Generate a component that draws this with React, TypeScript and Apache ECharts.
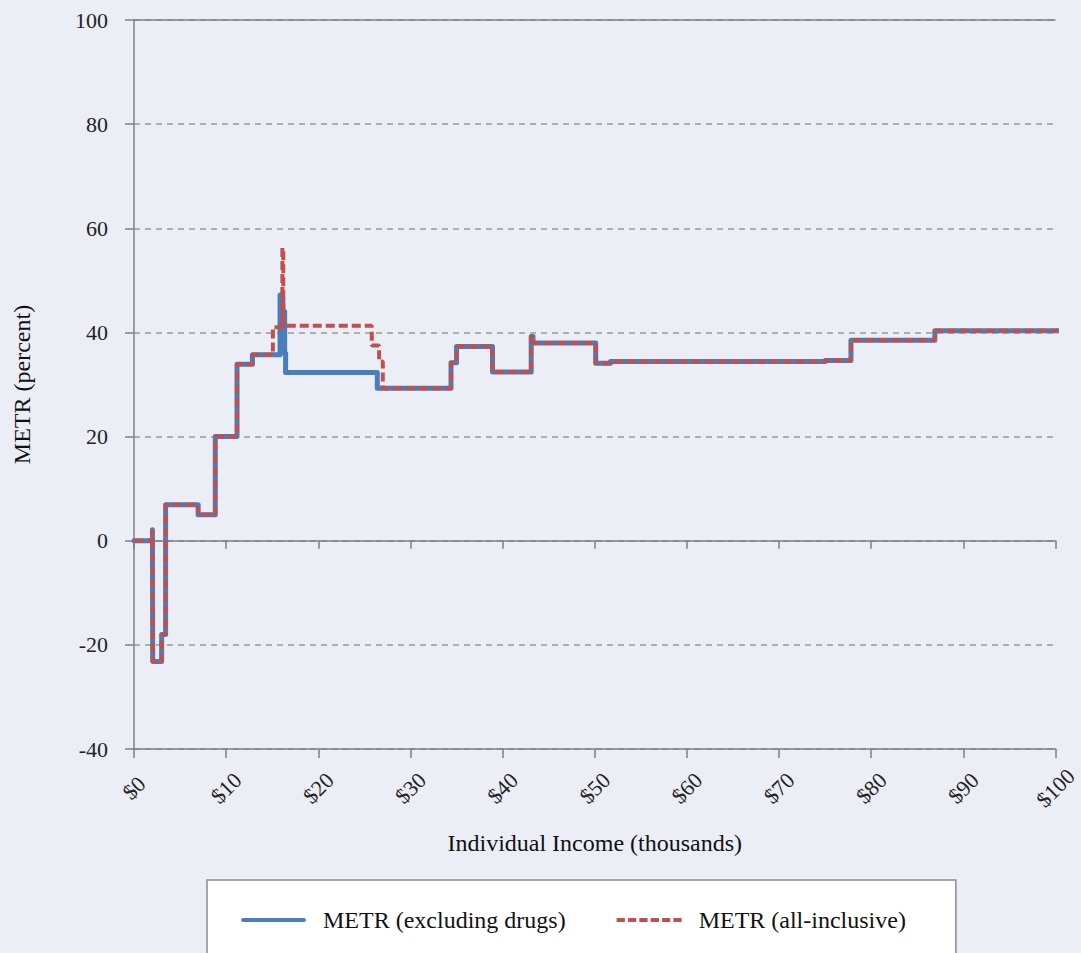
import React, { useEffect, useRef } from "react";
import * as echarts from "echarts";

// Step breakpoints: each value holds from its income to the next income (thousands of $)
const incomeExcl = [0, 2.0, 2.03, 3.0, 3.43, 6.96, 8.82, 11.18, 12.85, 15.85, 15.95, 16.05, 16.15, 16.25, 16.35, 16.45, 26.4, 34.4, 35.0, 38.9, 43.1, 43.3, 50.1, 51.7, 75.0, 77.8, 86.9, 101.3];
const metrExcl = [0, 2.1, -23.2, -18.0, 6.9, 5.0, 20.0, 33.9, 35.7, 47.2, 36.5, 46.5, 38.0, 44.0, 36.0, 32.3, 29.3, 34.2, 37.3, 32.4, 39.2, 37.95, 34.1, 34.4, 34.6, 38.5, 40.3, 40.3];

const incomeAll = [0, 2.0, 2.03, 3.0, 3.43, 6.96, 8.82, 11.18, 12.85, 15.07, 16.1, 16.2, 25.8, 26.6, 27.0, 34.4, 35.0, 38.9, 43.1, 43.3, 50.1, 51.7, 75.0, 77.8, 86.9, 101.0];
const metrAll = [0, 2.1, -23.2, -18.0, 6.9, 5.0, 20.0, 33.9, 35.7, 41.0, 56.2, 41.3, 37.5, 34.4, 29.3, 34.2, 37.3, 32.4, 39.2, 37.95, 34.1, 34.4, 34.6, 38.5, 40.3, 40.3];

const seriesNames = ["METR (excluding drugs)", "METR (all-inclusive)"];
const xTicks = { min: 0, max: 100, interval: 10 };
const yTicks = { min: -40, max: 100, interval: 20 };

const FONT = "'Liberation Serif', 'DejaVu Serif', serif";
const AXIS_GRAY = "#7f7f7f";
const BLUE = "#4a7ebb";
const RED = "#c0504d";

const SOLID_ICON = "path://M2,0H61A2,2 0 0 1 61,4H2A2,2 0 0 1 2,0Z";
const DASH_ICON =
  "path://M0,0h8v4h-8zM11,0h8v4h-8zM22,0h8v4h-8zM33,0h8v4h-8zM44,0h8v4h-8zM55,0h8v4h-8z";

export default function App() {
  const ref = useRef<HTMLDivElement>(null);
  useEffect(() => {
    if (!ref.current) return;
    const chart = echarts.init(ref.current, undefined, { renderer: "svg" });
    const zip = (xs: number[], ys: number[]) => xs.map((x, i) => [x, ys[i]]);
    chart.setOption({
      animation: false,
      backgroundColor: "#ebeef5",
      textStyle: { fontFamily: FONT },
      grid: { left: 134, top: 20, width: 924, height: 729, containLabel: false },
      legend: {
        left: 207,
        top: 880,
        backgroundColor: "#ffffff",
        borderColor: "#8c8c8c",
        borderWidth: 1.5,
        borderRadius: 0,
        padding: [28, 50, 40, 34],
        itemGap: 51,
        itemWidth: 65,
        itemHeight: 5,
        textStyle: { fontFamily: FONT, fontSize: 24, color: "#111", padding: [0, 0, 0, 12] },
        data: [
          { name: seriesNames[0], icon: SOLID_ICON },
          { name: seriesNames[1], icon: DASH_ICON },
        ],
      },
      xAxis: [
        {
          type: "value",
          position: "bottom",
          min: xTicks.min,
          max: xTicks.max,
          interval: xTicks.interval,
          name: "Individual Income (thousands)",
          nameLocation: "middle",
          nameGap: 82,
          nameTextStyle: { fontFamily: FONT, fontSize: 24, color: "#111" },
          axisLine: { onZero: false, show: true, lineStyle: { color: AXIS_GRAY, width: 1.5 } },
          axisTick: { show: true, length: 9, lineStyle: { color: AXIS_GRAY, width: 1.5 } },
          axisLabel: {
            rotate: 45,
            align: "center",
            verticalAlign: "middle",
            margin: 39,
            fontFamily: FONT,
            fontSize: 22,
            color: "#222",
            formatter: (v: number) => "$" + v,
          },
          splitLine: { show: false },
        },
        {
          type: "value",
          position: "top",
          min: xTicks.min,
          max: xTicks.max,
          interval: xTicks.interval,
          axisLine: { onZero: true, show: true, lineStyle: { color: AXIS_GRAY, width: 1.5 } },
          axisTick: { show: true, inside: true, length: 8, lineStyle: { color: AXIS_GRAY, width: 1.5 } },
          axisLabel: { show: false },
          splitLine: { show: false },
        },
      ],
      yAxis: {
        type: "value",
        min: yTicks.min,
        max: yTicks.max,
        interval: yTicks.interval,
        name: "METR (percent)",
        nameLocation: "middle",
        nameGap: 100,
        nameTextStyle: { fontFamily: FONT, fontSize: 24, color: "#111" },
        axisLine: { show: true, onZero: false, lineStyle: { color: AXIS_GRAY, width: 1.5 } },
        axisTick: { show: true, length: 9, lineStyle: { color: AXIS_GRAY, width: 1.5 } },
        axisLabel: { margin: 26, fontFamily: FONT, fontSize: 22, color: "#222" },
        splitLine: { show: true, lineStyle: { color: "#9a9a9a", width: 1.5, type: [6, 5] } },
      },
      series: [
        {
          name: seriesNames[0],
          type: "line",
          xAxisIndex: 0,
          step: "end",
          symbol: "none",
          clip: false,
          data: zip(incomeExcl, metrExcl),
          lineStyle: { color: BLUE, width: 5, cap: "round", join: "round" },
          itemStyle: { color: BLUE },
          markLine: {
            silent: true,
            symbol: "none",
            label: { show: false },
            lineStyle: { color: AXIS_GRAY, width: 1.5, type: "solid" },
            data: [{ yAxis: yTicks.max }],
          },
          z: 2,
        },
        {
          name: seriesNames[1],
          type: "line",
          xAxisIndex: 0,
          step: "end",
          symbol: "none",
          clip: false,
          data: zip(incomeAll, metrAll),
          lineStyle: { color: RED, width: 4, type: [9, 4], cap: "butt" },
          itemStyle: { color: RED },
          z: 3,
        },
      ],
    });
    return () => chart.dispose();
  }, []);
  return (
    <div
      ref={ref}
      style={{ position: "fixed", left: 0, top: 0, width: 1081, height: 953, background: "#ebeef5" }}
    />
  );
}
